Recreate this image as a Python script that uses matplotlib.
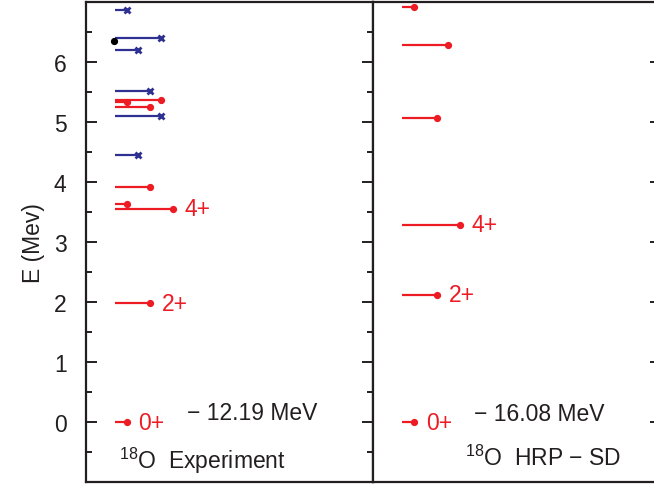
import matplotlib
matplotlib.use("Agg")
import matplotlib.pyplot as plt
from matplotlib.ticker import MultipleLocator

plt.rcParams['font.family'] = ['Liberation Sans', 'DejaVu Sans']
plt.rcParams['mathtext.fontset'] = 'custom'
plt.rcParams['mathtext.rm'] = 'Liberation Sans'

# ---- data ----
exp_E = [0.0, 1.982, 3.555, 3.634, 3.920, 4.456, 5.098, 5.255, 5.336, 5.378, 5.530, 6.198, 6.404, 6.880]
exp_J = [0, 2, 4, 0, 2, 1, 3, 2, 0, 3, 2, 1, 3, 0]
exp_P = ['+', '+', '+', '+', '+', '-', '-', '+', '+', '+', '-', '-', '-', '-']
exp_unknown_E = [6.351]          # level without spin assignment (black dot)
exp_spin_labels = {0.0: '0+', 1.982: '2+', 3.555: '4+'}

th_E = [0.0, 2.13, 3.29, 5.08, 6.29, 6.93]
th_J = [0, 2, 4, 2, 3, 0]
th_P = ['+', '+', '+', '+', '+', '+']
th_spin_labels = {0.0: '0+', 2.13: '2+', 3.29: '4+'}

exp_gs = '− 12.19 MeV'
th_gs = '− 16.08 MeV'
exp_title = r'$^{\mathregular{18}}$O  Experiment'
th_title = r'$^{\mathregular{18}}$O  HRP − SD'

ylabel = 'E (Mev)'
yticks = [0, 1, 2, 3, 4, 5, 6]

# ---- style / layout ----
RED = '#ed1c24'
BLUE = '#2e3192'
INK = '#231f20'
FS = 16.5
X0 = 29.0      # start of level lines (axes px units)
STEP = 11.5    # length per unit of spin
LAB_OFF = 12.0

W, H = 654, 485
fig = plt.figure(figsize=(W / 100, H / 100), dpi=100)
axw = 287.3 / W
bottom = 1.7 / H
height = 480.0 / H
ax1 = fig.add_axes([86.0 / W, bottom, axw, height])
ax2 = fig.add_axes([373.3 / W, bottom, axw, height])


def draw_levels(ax, E, J, P):
    for e, j, p in zip(E, J, P):
        xend = X0 + STEP * (j + 1)
        col = RED if p == '+' else BLUE
        ax.plot([X0, xend], [e, e], color=col, lw=1.6, solid_capstyle='butt', zorder=2)
        if p == '+':
            ax.plot([xend], [e], marker='o', ms=4.2, color=col, mec=col, zorder=3)
        else:
            ax.plot([xend], [e], marker='x', ms=5, mew=2.0, color=col, zorder=3)


def spin_label(ax, E, J, labels):
    for e, j in zip(E, J):
        if e in labels:
            xend = X0 + STEP * (j + 1)
            ax.text(xend + LAB_OFF, e, labels[e], color=RED, fontsize=FS,
                    va='center', ha='left')


draw_levels(ax1, exp_E, exp_J, exp_P)
for e in exp_unknown_E:
    ax1.plot([X0 - 1], [e], marker='o', ms=4.2, color='black', zorder=3)
spin_label(ax1, exp_E, exp_J, exp_spin_labels)
ax1.text(101, 0.17, exp_gs, fontsize=FS, va='center', ha='left', color=INK)
ax1.text(33, -0.62, exp_title, fontsize=FS, va='center', ha='left', color=INK)

draw_levels(ax2, th_E, th_J, th_P)
spin_label(ax2, th_E, th_J, th_spin_labels)
ax2.text(101, 0.14, th_gs, fontsize=FS, va='center', ha='left', color=INK)
ax2.text(92, -0.58, th_title, fontsize=FS, va='center', ha='left', color=INK)

for ax in (ax1, ax2):
    ax.set_xlim(0, 287.3)
    ax.set_ylim(-1, 7)
    ax.set_xticks([])
    ax.yaxis.set_major_locator(MultipleLocator(1))
    ax.yaxis.set_minor_locator(MultipleLocator(0.5))
    for s in ax.spines.values():
        s.set_linewidth(1.6)
        s.set_color(INK)

ax1.set_yticks(yticks)
ax1.tick_params(axis='y', which='both', direction='in', left=True, right=True,
                color=INK, width=1.4)
ax1.tick_params(axis='y', which='major', length=8, labelsize=FS, pad=14,
                labelcolor=INK)
ax1.tick_params(axis='y', which='minor', length=4)
ax1.set_ylabel(ylabel, fontsize=FS, color=INK, labelpad=6)

ax2.tick_params(axis='y', which='both', direction='in', left=False, right=True,
                labelleft=False, color=INK, width=1.4)
ax2.tick_params(axis='y', which='major', length=8)
ax2.tick_params(axis='y', which='minor', length=4)

fig.savefig('out.png', dpi=100)
